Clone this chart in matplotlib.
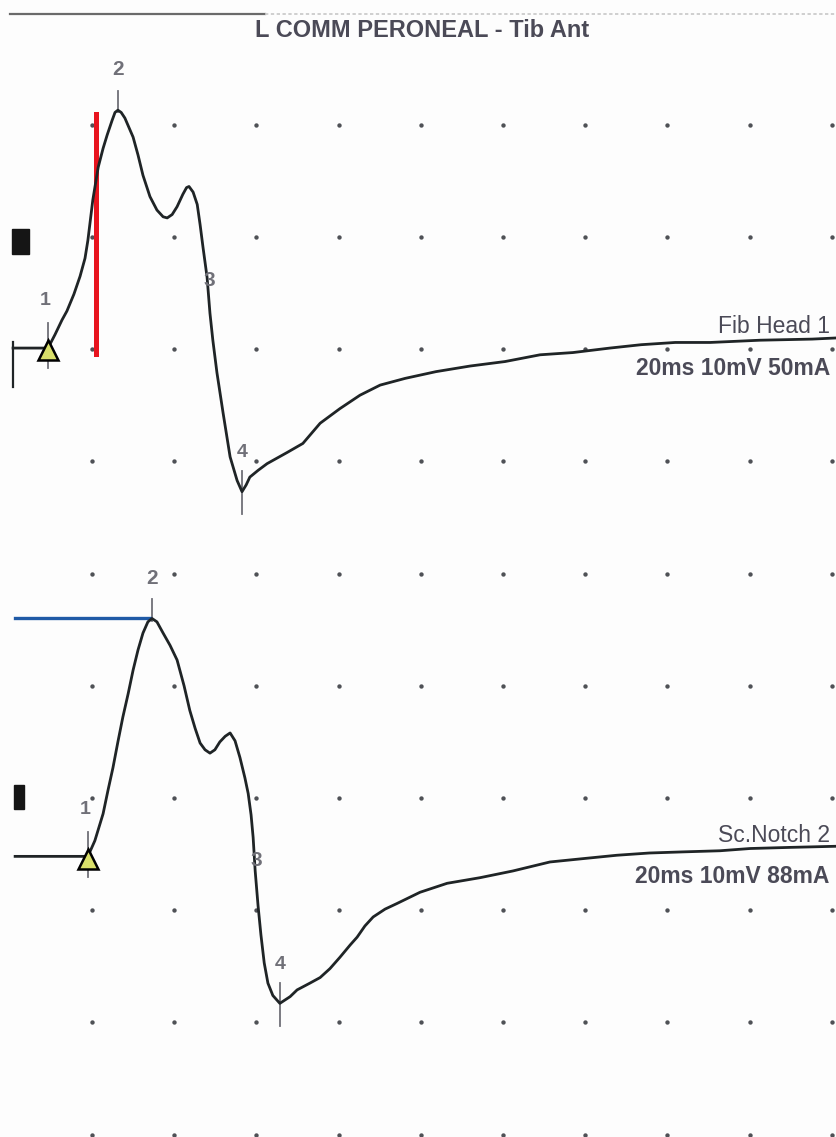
import matplotlib.pyplot as plt
import numpy as np
from matplotlib.patches import Rectangle

plt.rcParams['font.family'] = ['Liberation Sans', 'DejaVu Sans']

# sweep: 2 ms per division, 1 mV per division (20ms / 10mV over 10 divisions)
title = "L COMM PERONEAL - Tib Ant"

# Fib Head stimulation (time in ms, amplitude in mV from baseline)
fib_t = [0.08, 0.93, 1.10, 1.27, 1.39, 1.56, 1.71, 1.83, 1.90, 2.02, 2.15, 2.27, 2.37,
         2.49, 2.56, 2.63, 2.71, 2.80, 3.00, 3.12, 3.24, 3.41, 3.58, 3.73, 3.83, 3.95,
         4.07, 4.21, 4.30, 4.36, 4.46, 4.56, 4.63, 4.70, 4.80, 4.87, 4.94, 5.04, 5.19,
         5.36, 5.53, 5.65, 5.75, 5.84, 6.04, 6.26, 6.75, 7.13, 7.55, 8.03, 8.52, 9.01,
         9.62, 10.37, 11.20, 12.05, 12.90, 13.70, 14.60, 15.36, 16.19, 17.04, 18.25,
         19.52, 20.10]
fib_mv = [0.0, 0.0, 0.12, 0.25, 0.33, 0.48, 0.64, 0.80, 0.96, 1.32, 1.61, 1.78, 1.90,
          2.03, 2.10, 2.12, 2.10, 2.05, 1.88, 1.72, 1.54, 1.35, 1.23, 1.17, 1.16, 1.19,
          1.26, 1.37, 1.43, 1.44, 1.39, 1.28, 1.10, 0.90, 0.63, 0.31, 0.07, -0.22, -0.58,
          -0.97, -1.18, -1.28, -1.22, -1.15, -1.09, -1.03, -0.93, -0.85, -0.67, -0.54,
          -0.42, -0.33, -0.27, -0.21, -0.16, -0.12, -0.06, -0.04, 0.0, 0.03, 0.05, 0.05,
          0.07, 0.08, 0.09]

# Sciatic notch stimulation
sc_t = [0.13, 1.90, 2.07, 2.27, 2.39, 2.51, 2.63, 2.75, 2.88, 3.00, 3.12, 3.24, 3.36,
        3.46, 3.58, 3.73, 3.90, 4.07, 4.24, 4.38, 4.51, 4.63, 4.75, 4.87, 4.99, 5.11,
        5.24, 5.36, 5.48, 5.60, 5.72, 5.80, 5.87, 5.92, 5.97, 6.04, 6.11, 6.19, 6.28,
        6.40, 6.57, 6.82, 6.99, 7.30, 7.55, 7.79, 8.03, 8.28, 8.45, 8.64, 8.84, 9.13,
        9.42, 9.98, 10.64, 11.44, 12.24, 13.14, 13.95, 14.77, 15.56, 16.38, 17.28,
        18.01, 18.98, 20.10]
sc_mv = [0.0, 0.0, 0.14, 0.38, 0.59, 0.79, 1.02, 1.24, 1.45, 1.66, 1.84, 1.99, 2.09,
         2.12, 2.09, 1.99, 1.88, 1.75, 1.52, 1.30, 1.14, 1.01, 0.95, 0.92, 0.95, 1.02,
         1.07, 1.10, 1.03, 0.88, 0.70, 0.56, 0.37, 0.17, -0.13, -0.44, -0.70, -0.95, -1.13,
         -1.24, -1.31, -1.25, -1.19, -1.13, -1.08, -1.00, -0.90, -0.79, -0.72, -0.62, -0.54,
         -0.47, -0.42, -0.32, -0.24, -0.19, -0.13, -0.05, -0.02, 0.01, 0.03, 0.04, 0.05,
         0.07, 0.08, 0.09]

# cursor latencies (ms) for markers 1-4
fib_marks = [0.93, 2.63, 4.80, 5.65]
sc_marks = [1.90, 3.46, 5.95, 6.57]

traces = [
    dict(t=fib_t, mv=fib_mv, marks=fib_marks, base=7.01,
         site="Fib Head 1", info="20ms 10mV 50mA"),
    dict(t=sc_t, mv=sc_mv, marks=sc_marks, base=2.48,
         site="Sc.Notch 2", info="20ms 10mV 88mA"),
]

trace_col = '#1f2426'
txt_col = '#4b4a57'
mark_col = '#707078'

fig = plt.figure(figsize=(8.36, 11.37), dpi=100)
ax = fig.add_axes([0, 0, 1, 1])
ax.set_xlim(-0.238, 20.10)
ax.set_ylim(-0.021, 10.112)
ax.axis('off')
fig.patch.set_facecolor('#fdfdfd')

# dot grid
gx, gy = np.meshgrid(np.arange(2, 21, 2), np.arange(0, 10))
ax.scatter(gx.ravel(), gy.ravel(), s=10, color='#4f5156', zorder=1, linewidths=0)

# top frame line
ax.plot([0.0, 6.2], [9.99, 9.99], color='#6a6a6a', lw=1.6)
ax.plot([6.2, 20.1], [9.99, 9.99], color='#c8c8c8', lw=1.2, ls=(0, (2, 1.5)))

ax.text(10.03, 9.84, title, ha='center', va='center', fontsize=17,
        fontweight='bold', color=txt_col)

for tr in traces:
    t = np.array(tr['t'])
    y = np.array(tr['mv']) + tr['base']
    ax.plot(t, y, color=trace_col, lw=2.0, zorder=4, solid_joinstyle='round')
    vals = np.interp(tr['marks'], t, y)

    # onset: triangle + tick + "1"
    ax.plot([tr['marks'][0]] * 2, [vals[0] - 0.18, vals[0] + 0.22], color=mark_col, lw=1.3, zorder=3)
    ax.plot(tr['marks'][0], vals[0] - 0.02, marker='^', ms=15, mfc='#d9df6a',
            mec='black', mew=1.8, zorder=6)
    ax.text(tr['marks'][0] - 0.06, vals[0] + 0.42, "1", ha='center', va='center',
            fontsize=14, fontweight='bold', color=mark_col)

    # peak: tick + "2"
    ax.plot([tr['marks'][1]] * 2, [vals[1] - 0.02, vals[1] + 0.17], color=mark_col, lw=1.3, zorder=3)
    ax.text(tr['marks'][1], vals[1] + 0.36, "2", ha='center', va='center',
            fontsize=15, fontweight='bold', color=mark_col)

    # marker 3 sits on the falling slope
    ax.text(tr['marks'][2] + 0.05, vals[2] - 0.03, "3", ha='center', va='center',
            fontsize=15, fontweight='bold', color=mark_col, zorder=5)

    # trough: tick + "4"
    ax.plot([tr['marks'][3]] * 2, [vals[3] - 0.2, vals[3] + 0.18], color=mark_col, lw=1.3, zorder=3)
    ax.text(tr['marks'][3], vals[3] + 0.35, "4", ha='center', va='center',
            fontsize=14, fontweight='bold', color=mark_col)

    ax.text(19.95, tr['base'] + 0.19, tr['site'], ha='right', va='center',
            fontsize=16.5, color=txt_col)
    ax.text(19.95, tr['base'] - 0.18, tr['info'], ha='right', va='center',
            fontsize=16.5, fontweight='bold', color=txt_col)

# channel gain blocks on the left edge
ax.add_patch(Rectangle((0.05, traces[0]['base'] + 0.84), 0.42, 0.22, color='#151515', zorder=5))
ax.add_patch(Rectangle((0.10, traces[1]['base'] + 0.42), 0.25, 0.22, color='#151515', zorder=5))

# left edge of the first sweep
ax.plot([0.08, 0.08], [traces[0]['base'] + 0.05, traces[0]['base'] - 0.35], color=trace_col, lw=1.6)

# amplitude cursor (red) and peak level (blue)
ax.plot([2.10, 2.10], [traces[0]['base'] - 0.05, traces[0]['base'] + 2.09],
        color='#e8141e', lw=3.6, zorder=3)
peak2 = max(sc_mv)
ax.plot([0.13, 3.41], [traces[1]['base'] + peak2] * 2, color='#1f5aa6', lw=2.4, zorder=3)

fig.savefig('out.png', dpi=100, facecolor=fig.get_facecolor())
